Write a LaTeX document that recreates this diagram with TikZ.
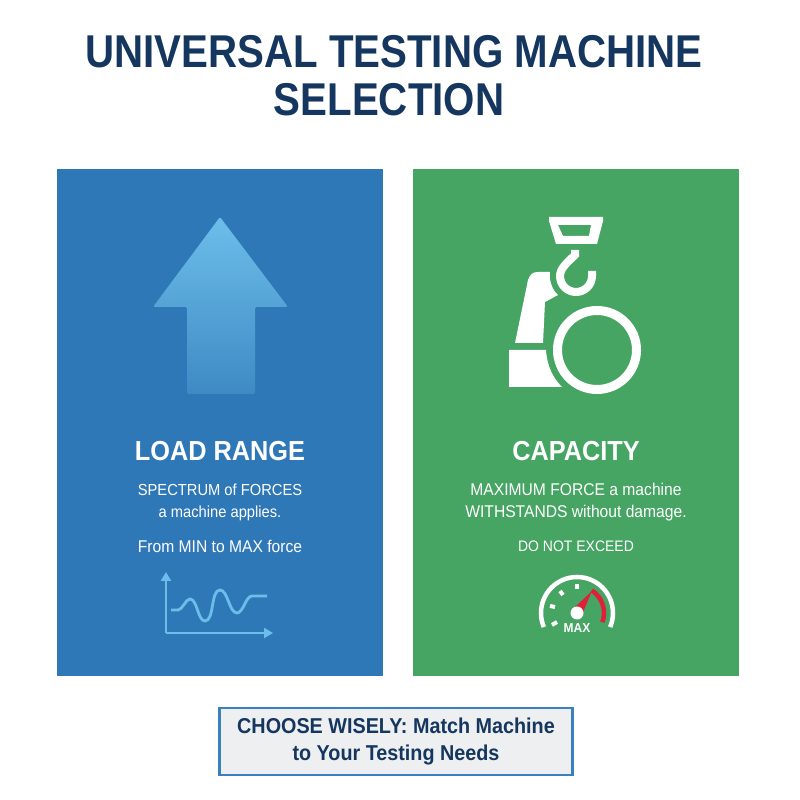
\documentclass[tikz,border=0pt]{standalone}
\usepackage{fontspec}
\setmainfont{Liberation Sans}
\newfontfamily\narrowfont[FakeStretch=0.92]{Liberation Sans}
\newfontfamily\titlefont[FakeStretch=0.875]{Liberation Sans}
\usetikzlibrary{arrows.meta}
\definecolor{navy}{HTML}{14365F}
\definecolor{panelblue}{HTML}{2F78B7}
\definecolor{panelgreen}{HTML}{46A562}
\definecolor{skyline}{HTML}{6CBEEA}
\definecolor{gaugered}{HTML}{E0203A}
\definecolor{bannerline}{HTML}{3A80C0}
\definecolor{bannerfill}{HTML}{EEEFF1}
\tikzset{
	panel/.style={draw=none, minimum width=326pt, minimum height=507pt, inner sep=0pt},
	heading/.style={text=white, font=\narrowfont\bfseries\fontsize{27.5}{32}\selectfont},
	bodytext/.style={text=white, align=center, font=\narrowfont\fontsize{#1}{22}\selectfont},
	bodytext/.default=16,
	titletext/.style={text=navy, align=center, font=\titlefont\bfseries\fontsize{46}{48}\selectfont},
	icon/.style={fill=white, draw=none},
	chartline/.style={draw=skyline, line width=2.8pt},
	charttip/.style={-{Triangle[length=9pt,width=10pt]}},
	ticks/.style={white, line width=4pt}
}
\begin{document}
\begin{tikzpicture}[x=1pt, y=1pt]
	\useasboundingbox (0,0) rectangle (800,800);
	\fill[white] (0,0) rectangle (800,800);
	\node (title) [titletext] at (394,724) {UNIVERSAL TESTING MACHINE\\\mbox{SELECTION\hspace{10pt}}};
	\node (loadpanel) [panel, fill=panelblue] at (220,377.5) {};
	\node (capacitypanel) [panel, fill=panelgreen] at (576,377.5) {};
	% up arrow
	\shade[top color=skyline, middle color=skyline!92!panelblue, bottom color=panelblue!75!skyline, rounded corners=1.5pt]
		(220,583) -- (288,493) -- (255,493) -- (255,406) -- (187,406) -- (187,493) -- (153,493) -- cycle;
	\node (loadhead) [heading] at (220,349) {LOAD RANGE};
	\node (loadtext) [bodytext] at (220,298) {SPECTRUM of FORCES\\a machine applies.};
	\node (loadrange) [bodytext=17] at (220,254) {From MIN to MAX force};
	% little chart
	\coordinate (origin) at (166,167);
	\coordinate (ytop) at (166,228);
	\coordinate (xend) at (273,167);
	\draw[chartline, charttip] (origin) -- (ytop);
	\draw[chartline, charttip] (origin) -- (xend);
	\draw[chartline, looseness=0.7] (171,190) -- (178,190) to[out=0,in=180] (190,201) to[out=0,in=180] (205,179) to[out=0,in=180] (220,210) to[out=0,in=180] (237,187) to[out=0,in=180] (252,204) -- (267,204);
	% crane hook and pipe
	\path[icon, even odd rule] (549,583) -- (603,583) -- (603,579) -- (597,556) -- (556,556) -- (549,579) -- cycle
		(558,575) -- (591,575) -- (589,564) -- (563,564) -- cycle;
	\draw[white, line width=8pt] (592,529) -- (592,524) arc[start angle=0, end angle=-180, radius=16] .. controls (560,532) and (568,538) .. (575,545) -- (575,550);
	\path[icon] (528,520) .. controls (530,526) and (533,528) .. (538,528) -- (550,528) .. controls (549,520) and (552,510) .. (558,505) -- (545,498) -- (543,457) -- (515,457) -- cycle;
	\path[icon] (509,450) -- (546,450) .. controls (547,434) and (553,422) .. (562,413) -- (509,413) -- cycle;
	\draw[white, line width=9pt] (597,450) circle (39.5);
	\node (capacityhead) [heading] at (576,349) {CAPACITY};
	\node (capacitytext) [bodytext=17] at (576,298) {MAXIMUM FORCE a machine\\WITHSTANDS without damage.};
	\node (limit) [bodytext=15.2] at (576,254) {DO NOT EXCEED};
	% gauge
	\coordinate (hub) at (577,187);
	\draw[white, line width=4.5pt] ([shift={(203:36)}]hub) arc[start angle=203, end angle=-23, radius=36];
	\draw[gaugered, line width=4.5pt] ([shift={(57:27)}]hub) arc[start angle=57, end angle=-20, radius=27];
	\fill[gaugered] (592,209) -- (573,191) -- (581,183) -- cycle;
	\fill[white] (hub) circle (6.5);
	\draw[ticks] (552,175) -- (557,178);
	\draw[ticks] (550,194) -- (555,193);
	\draw[ticks] (560,209) -- (563,205);
	\draw[ticks] (577,216) -- (577,211);
	\node (maxlabel) [text=white, font=\narrowfont\bfseries\fontsize{13}{13}\selectfont] at (577,172) {MAX};
	% bottom banner
	\node (banner) [draw=bannerline, line width=2.5pt, fill=bannerfill, minimum width=353pt, minimum height=67pt, inner sep=0pt, text=navy, align=center, font=\narrowfont\bfseries\fontsize{21.5}{27}\selectfont] at (396,58.5) {CHOOSE WISELY: Match Machine\\to Your Testing Needs};
\end{tikzpicture}
\end{document}
